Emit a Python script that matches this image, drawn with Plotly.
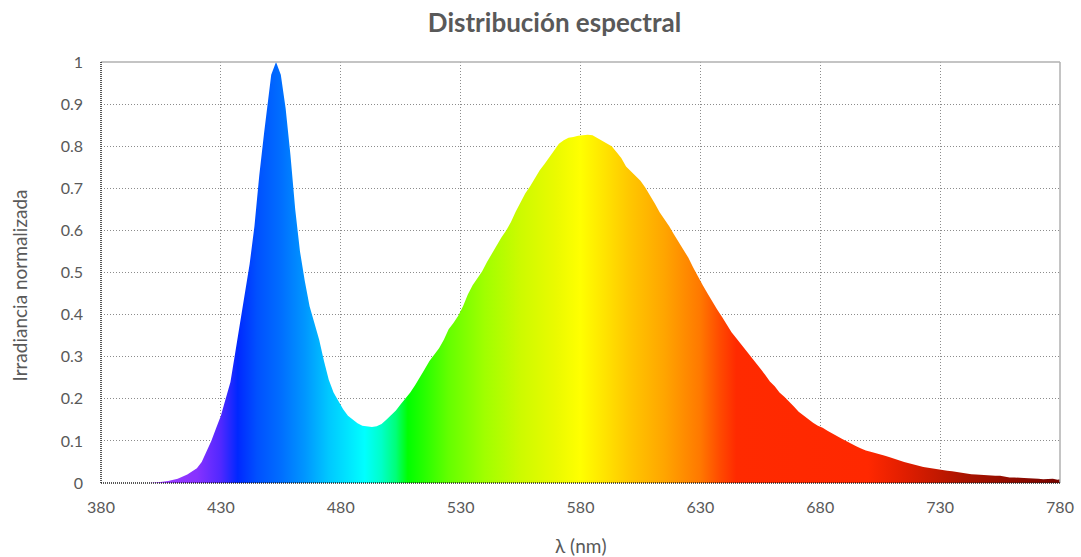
import plotly.graph_objects as go

# Wavelength (nm) and normalised irradiance
wavelength = [380, 400, 404, 408, 412, 416, 420, 422, 424, 426, 428, 430, 432, 434, 436, 438, 440, 442, 444, 446,
              448, 450, 451, 453, 455, 457, 459, 461, 463, 465, 467, 469, 471, 473, 475, 477, 479, 481, 483, 485,
              487, 489, 491, 493, 495, 497, 499, 501, 503, 505, 507, 509, 511, 513, 515, 517, 519, 521, 523, 525,
              527, 529, 531, 533, 535, 537, 539, 541, 543, 545, 547, 549, 551, 553, 555, 557, 559, 561, 563, 565,
              567, 569, 571, 573, 575, 577, 579, 581, 583, 585, 587, 589, 591, 593, 595, 597, 599, 601, 603, 605,
              607, 609, 611, 613, 615, 617, 619, 621, 623, 625, 627, 629, 631, 633, 635, 637, 639, 641, 643, 645,
              647, 649, 651, 653, 655, 657, 659, 661, 663, 665, 667, 669, 671, 673, 675, 677, 679, 681, 683, 685,
              687, 689, 691, 693, 695, 697, 699, 701, 703, 705, 707, 709, 711, 713, 715, 717, 719, 721, 723, 725,
              727, 729, 731, 733, 735, 737, 739, 741, 743, 745, 747, 749, 751, 753, 755, 757, 759, 761, 763, 765,
              767, 769, 771, 773, 775, 777, 779, 780]
irradiance = [0, 0, 0.002, 0.005, 0.010, 0.020, 0.035, 0.050, 0.075, 0.100, 0.130, 0.160, 0.200, 0.240, 0.310, 0.380, 0.440, 0.520, 0.610, 0.730,
              0.830, 0.930, 0.970, 1.000, 0.970, 0.890, 0.780, 0.650, 0.550, 0.480, 0.420, 0.380, 0.340, 0.290, 0.245, 0.215, 0.195, 0.175, 0.160, 0.150,
              0.142, 0.136, 0.134, 0.133, 0.135, 0.140, 0.150, 0.160, 0.172, 0.187, 0.200, 0.215, 0.232, 0.250, 0.270, 0.290, 0.305, 0.320, 0.340, 0.365,
              0.380, 0.397, 0.420, 0.448, 0.470, 0.488, 0.503, 0.525, 0.545, 0.565, 0.583, 0.600, 0.620, 0.645, 0.668, 0.688, 0.705, 0.725, 0.743, 0.758,
              0.775, 0.792, 0.806, 0.814, 0.820, 0.822, 0.825, 0.826, 0.827, 0.826, 0.820, 0.814, 0.808, 0.800, 0.786, 0.772, 0.752, 0.740, 0.730, 0.718,
              0.702, 0.684, 0.664, 0.643, 0.627, 0.610, 0.590, 0.572, 0.554, 0.535, 0.512, 0.490, 0.470, 0.450, 0.430, 0.412, 0.395, 0.375, 0.358, 0.344,
              0.330, 0.314, 0.300, 0.286, 0.272, 0.257, 0.241, 0.230, 0.215, 0.205, 0.194, 0.182, 0.169, 0.160, 0.152, 0.143, 0.136, 0.131, 0.124, 0.117,
              0.110, 0.105, 0.099, 0.092, 0.087, 0.082, 0.077, 0.074, 0.071, 0.069, 0.065, 0.061, 0.057, 0.053, 0.050, 0.047, 0.044, 0.040, 0.038, 0.036,
              0.034, 0.033, 0.031, 0.029, 0.028, 0.026, 0.024, 0.022, 0.021, 0.020, 0.019, 0.018, 0.018, 0.017, 0.017, 0.015, 0.013, 0.013, 0.013, 0.012,
              0.011, 0.011, 0.010, 0.009, 0.009, 0.010, 0.008, 0.009]

# Spectral colour stops (wavelength, colour)
color_nm = [380, 405, 420, 430, 437, 445, 455, 465, 475, 482, 490, 497, 503, 508, 515, 525, 540, 555, 570, 580,
            590, 600, 615, 630, 638, 645, 700, 715, 740, 780]
color_rgb = ["rgb(140,40,230)", "rgb(155,60,255)", "rgb(135,50,255)", "rgb(80,40,255)", "rgb(0,40,255)",
             "rgb(0,80,255)", "rgb(0,110,255)", "rgb(0,150,255)", "rgb(0,200,255)", "rgb(0,225,255)",
             "rgb(0,255,255)", "rgb(0,255,200)", "rgb(0,255,120)", "rgb(0,255,0)", "rgb(40,255,0)",
             "rgb(100,255,0)", "rgb(160,255,0)", "rgb(205,250,0)", "rgb(235,250,0)", "rgb(255,255,0)",
             "rgb(255,228,0)", "rgb(255,200,0)", "rgb(255,165,0)", "rgb(255,120,0)", "rgb(255,75,0)",
             "rgb(255,42,0)", "rgb(255,40,0)", "rgb(225,30,0)", "rgb(170,20,0)", "rgb(120,5,0)"]

x_ticks = [380, 430, 480, 530, 580, 630, 680, 730, 780]

x0, x1 = 380, 780
colorscale = [[(n - x0) / (x1 - x0), c] for n, c in zip(color_nm, color_rgb)]

fig = go.Figure()
fig.add_trace(go.Scatter(
    x=wavelength, y=irradiance, mode="lines", fill="tozeroy",
    line=dict(width=0, color="rgba(0,0,0,0)"),
    fillgradient=dict(type="horizontal", colorscale=colorscale, start=x0, stop=x1),
    hoverinfo="x+y", showlegend=False,
))

font_family = "Lato, 'Open Sans', sans-serif"
grey = "#595959"

fig.update_layout(
    width=1081, height=557,
    margin=dict(l=101, r=21, t=62, b=74, autoexpand=False),
    paper_bgcolor="white", plot_bgcolor="white",
    font=dict(family=font_family, color=grey, size=16),
    title=dict(text="<b>Distribución espectral</b>", x=0.513, xref="container", xanchor="center",
               y=1 - 23 / 557, yref="container", yanchor="middle", font=dict(size=26, color=grey, family=font_family)),
    xaxis=dict(range=[x0, x1], tickvals=x_ticks, showgrid=True, gridcolor="#8c8c8c", griddash="1px,2px",
               gridwidth=1, zeroline=False, showline=False, ticks="", ticklabelstandoff=13,
               automargin=False, tickfont=dict(size=16, color=grey)),
    yaxis=dict(range=[0, 1], dtick=0.1, tick0=0, showgrid=True, gridcolor="#8c8c8c", griddash="1px,2px",
               gridwidth=1, zeroline=False, showline=False, ticks="", ticklabelstandoff=17,
               automargin=False, tickfont=dict(size=16, color=grey)),
    shapes=[
        dict(type="line", xref="paper", yref="paper", x0=0, x1=1, y0=1, y1=1,
             line=dict(color="#b0b0b0", width=1.5)),
        dict(type="line", xref="paper", yref="paper", x0=1, x1=1, y0=0, y1=1,
             line=dict(color="#b0b0b0", width=1.5)),
        dict(type="line", xref="paper", yref="paper", x0=0, x1=1, y0=0, y1=0,
             line=dict(color="#202020", width=1.5, dash="1px,1px")),
        dict(type="line", xref="paper", yref="paper", x0=0, x1=0, y0=0, y1=1,
             line=dict(color="#202020", width=1.5, dash="1px,1px")),
    ],
    annotations=[
        dict(text="λ (nm)", xref="paper", yref="paper", x=0.5, y=0, yshift=-62,
             showarrow=False, font=dict(size=19, color=grey, family=font_family), yanchor="middle"),
        dict(text="Irradiancia normalizada", xref="paper", yref="paper", x=0, xshift=-82, y=0.5,
             yshift=-13, textangle=-90, showarrow=False, font=dict(size=19, color=grey, family=font_family),
             xanchor="center"),
    ],
)

fig.write_html("out.html", config={"displayModeBar": False},
               post_script="document.body.style.margin='0';document.body.style.padding='0';")
